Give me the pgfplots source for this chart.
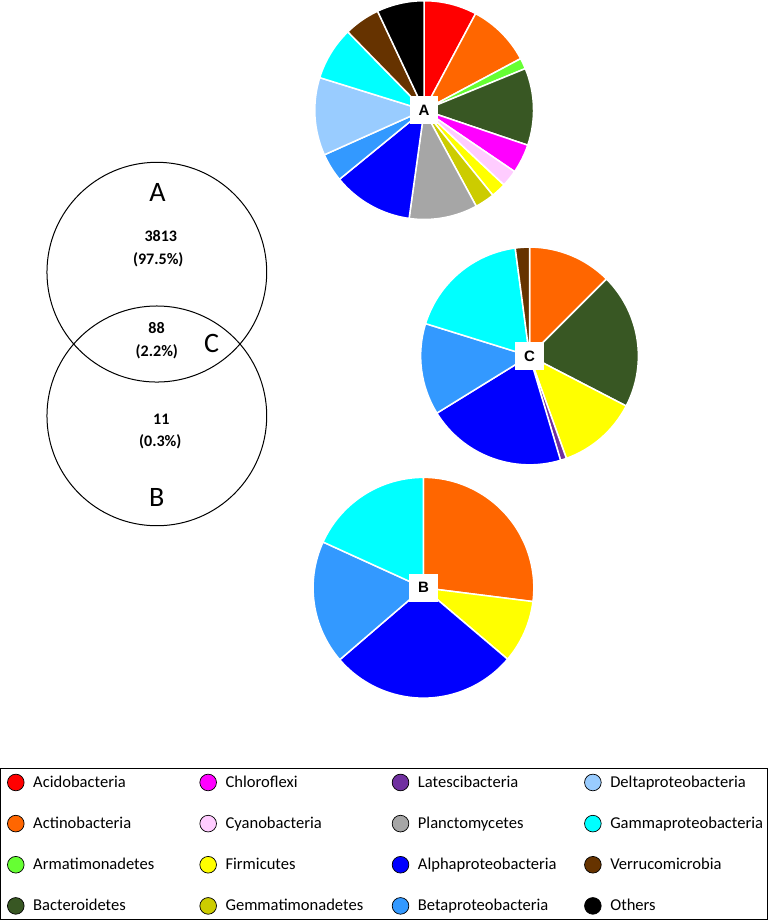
\documentclass[border=0pt]{standalone}
\usepackage{pgfplots}
\pgfplotsset{compat=1.18}
\usepackage{fontspec}
\setmainfont{Carlito}
\newfontfamily\arialfont{Liberation Sans}

\definecolor{acido}{HTML}{FF0000}
\definecolor{actino}{HTML}{FF6600}
\definecolor{armati}{HTML}{66FF33}
\definecolor{bactero}{HTML}{385723}
\definecolor{chloro}{HTML}{FF00FF}
\definecolor{cyano}{HTML}{FFCCFF}
\definecolor{firmi}{HTML}{FFFF00}
\definecolor{gemma}{HTML}{CCCC00}
\definecolor{latesci}{HTML}{7030A0}
\definecolor{plancto}{HTML}{A6A6A6}
\definecolor{alpha}{HTML}{0000FF}
\definecolor{beta}{HTML}{3399FF}
\definecolor{delta}{HTML}{99CCFF}
\definecolor{gamma}{HTML}{00FFFF}
\definecolor{verruco}{HTML}{663300}
\definecolor{others}{HTML}{000000}

% pie: centre x, centre y, radius, list of percent/colour (clockwise from 12 o'clock)
\newcommand\drawpie[4]{%
  \gdef\pieacc{0}%
  \foreach \v/\col in {#4}{%
    \pgfmathsetmacro\aS{90-3.6*\pieacc}%
    \pgfmathsetmacro\aE{90-3.6*(\pieacc+\v)}%
    \pgfmathsetmacro\newacc{\pieacc+\v}%
    \xdef\pieacc{\newacc}%
    \edef\tmp{\noexpand\filldraw[fill=\col,draw=white,line width=1.5pt,line join=round] (axis cs:#1,#2) -- ++(\aS:#3pt) arc[start angle=\aS, end angle=\aE, radius=#3pt] -- cycle;}%
    \tmp
  }%
}

\pgfplotsset{dot/.style={legend image code/.code={\filldraw[fill=#1,draw=black,line width=0.7pt] (0pt,0pt) circle[radius=8.3pt];}}}

\begin{document}
\begin{tikzpicture}
\begin{axis}[
  width=770pt, height=920pt, scale only axis,
  xmin=0, xmax=770, ymin=0, ymax=920,
  axis lines=none, clip=false,
  legend columns=4, legend cell align=left,
  legend style={at={(axis cs:3,153)}, anchor=north west, draw=black, line width=0.8pt,
    inner xsep=6.7pt, inner ysep=5pt, font=\fontsize{16.5}{20}\selectfont,
    row sep=23.7pt,
    /tikz/every odd column/.append style={column sep=8.7pt},
    /tikz/every even column/.append style={column sep=15.7pt},
    nodes={inner sep=0pt}},
]
% pies
\drawpie{425.7}{809}{109}{7.8/acido,9.4/actino,1.6/armati,11.4/bactero,4.3/chloro,2.5/cyano,2.2/firmi,2.9/gemma,10.1/plancto,11.9/alpha,4.2/beta,11.5/delta,7.9/gamma,5.3/verruco,7.0/others}
\drawpie{530.7}{564}{108.5}{12.5/actino,20.1/bactero,11.9/firmi,0.9/latesci,20.8/alpha,13.6/beta,18.1/gamma,2.1/verruco}
\drawpie{425}{333}{110}{27/actino,9.2/firmi,27.5/alpha,18.1/beta,18.2/gamma}
\node[fill=white, minimum size=28pt, inner sep=0pt, font=\fontsize{15}{18}\selectfont\arialfont\bfseries] at (axis cs:425.7,809) {A};
\node[fill=white, minimum size=28pt, inner sep=0pt, font=\fontsize{15}{18}\selectfont\arialfont\bfseries] at (axis cs:530.7,564) {C};
\node[fill=white, minimum size=28pt, inner sep=0pt, font=\fontsize{15}{18}\selectfont\arialfont\bfseries] at (axis cs:425,333) {B};

% Venn diagram
\draw[line width=1pt] (axis cs:159.3,647.5) circle[radius=109.5pt];
\draw[line width=1pt] (axis cs:159.3,504.3) circle[radius=109.5pt];
\node[font=\fontsize{28}{30}\selectfont] at (axis cs:160,726.7) {A};
\node[font=\fontsize{28}{30}\selectfont] at (axis cs:214,576.7) {C};
\node[font=\fontsize{28}{30}\selectfont] at (axis cs:159.3,422.7) {B};
\node[font=\fontsize{16}{19}\selectfont\bfseries] at (axis cs:163.3,683.3) {3813};
\node[font=\fontsize{16}{19}\selectfont\bfseries] at (axis cs:160.7,660) {(97.5\%)};
\node[font=\fontsize{16}{19}\selectfont\bfseries] at (axis cs:159,591.7) {88};
\node[font=\fontsize{16}{19}\selectfont\bfseries] at (axis cs:159.3,567.7) {(2.2\%)};
\node[font=\fontsize{16}{19}\selectfont\bfseries] at (axis cs:163.7,501) {11};
\node[font=\fontsize{16}{19}\selectfont\bfseries] at (axis cs:162.7,478.3) {(0.3\%)};

% legend (row-wise order)
\addlegendimage{dot=acido}\addlegendentry{\makebox[150pt][l]{Acidobacteria\vphantom{Ay}}}
\addlegendimage{dot=chloro}\addlegendentry{\makebox[150pt][l]{Chloroflexi\vphantom{Ay}}}
\addlegendimage{dot=latesci}\addlegendentry{\makebox[150pt][l]{Latescibacteria\vphantom{Ay}}}
\addlegendimage{dot=delta}\addlegendentry{\makebox[150pt][l]{Deltaproteobacteria\vphantom{Ay}}}
\addlegendimage{dot=actino}\addlegendentry{\makebox[150pt][l]{Actinobacteria\vphantom{Ay}}}
\addlegendimage{dot=cyano}\addlegendentry{\makebox[150pt][l]{Cyanobacteria\vphantom{Ay}}}
\addlegendimage{dot=plancto}\addlegendentry{\makebox[150pt][l]{Planctomycetes\vphantom{Ay}}}
\addlegendimage{dot=gamma}\addlegendentry{\makebox[150pt][l]{Gammaproteobacteria\vphantom{Ay}}}
\addlegendimage{dot=armati}\addlegendentry{\makebox[150pt][l]{Armatimonadetes\vphantom{Ay}}}
\addlegendimage{dot=firmi}\addlegendentry{\makebox[150pt][l]{Firmicutes\vphantom{Ay}}}
\addlegendimage{dot=alpha}\addlegendentry{\makebox[150pt][l]{Alphaproteobacteria\vphantom{Ay}}}
\addlegendimage{dot=verruco}\addlegendentry{\makebox[150pt][l]{Verrucomicrobia\vphantom{Ay}}}
\addlegendimage{dot=bactero}\addlegendentry{\makebox[150pt][l]{Bacteroidetes\vphantom{Ay}}}
\addlegendimage{dot=gemma}\addlegendentry{\makebox[150pt][l]{Gemmatimonadetes\vphantom{Ay}}}
\addlegendimage{dot=beta}\addlegendentry{\makebox[150pt][l]{Betaproteobacteria\vphantom{Ay}}}
\addlegendimage{dot=others}\addlegendentry{\makebox[150pt][l]{Others\vphantom{Ay}}}
\end{axis}
\end{tikzpicture}
\end{document}
